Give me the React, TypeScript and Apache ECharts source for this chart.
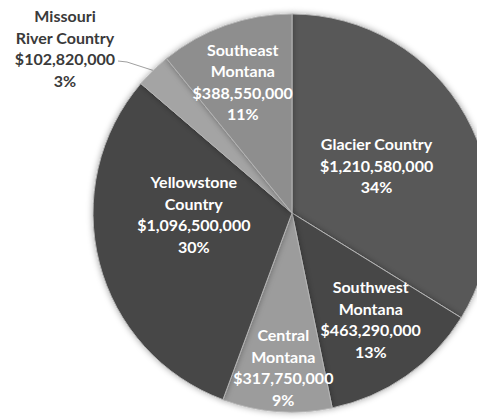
import React, { useEffect, useRef } from "react";
import * as echarts from "echarts";

const regions = [
  "Glacier Country",
  "Southwest Montana",
  "Central Montana",
  "Yellowstone Country",
  "Missouri River Country",
  "Southeast Montana",
];
const labelNames = [
  "Glacier Country",
  "Southwest\nMontana",
  "Central\nMontana",
  "Yellowstone\nCountry",
  "Missouri\nRiver Country",
  "Southeast\nMontana",
];
const revenues = [1210580000, 463290000, 317750000, 1096500000, 102820000, 388550000];
const percentLabels = ["34%", "13%", "9%", "30%", "3%", "11%"];

const colors = ["#595959", "#474747", "#9c9c9c", "#474747", "#a4a4a4", "#8e8e8e"];
const labelOffsets: number[][] = [
  [-5, 2],
  [20, 22],
  [-1, 52],
  [1, -25],
  [0, 0],
  [-15, -35],
];
const OUTSIDE_INDEX = 4;

function fmt(v: number) {
  return "$" + v.toLocaleString("en-US");
}

export default function App() {
  const ref = useRef<HTMLDivElement>(null);
  useEffect(() => {
    document.body.style.margin = "0";
    if (!ref.current) return;
    const chart = echarts.init(ref.current, undefined, { renderer: "svg" });
    const data = regions.map((name, i) => {
      const item: any = {
        name,
        value: revenues[i],
        itemStyle: { color: colors[i] },
      };
      if (i === OUTSIDE_INDEX) {
        item.label = {
          position: "outside",
          color: "#3a3a3a",
        };
        item.labelLine = {
          show: true,
          length: 5,
          length2: 20,
          lineStyle: { color: "#a0a0a0", width: 1 },
        };
      }
      return item;
    });
    chart.setOption({
      animation: false,
      backgroundColor: "#ffffff",
      series: [
        {
          type: "pie",
          center: [292, 213],
          radius: 199,
          startAngle: 90,
          clockwise: true,
          data,
          itemStyle: {
            borderColor: "#b4b4b4",
            borderWidth: 1,
            shadowBlur: 6,
            shadowColor: "rgba(0,0,0,0.35)",
          },
          label: {
            show: true,
            position: "inside",
            color: "#ffffff",
            fontFamily: "Lato",
            fontWeight: "bold",
            fontSize: 16,
            lineHeight: 21.5,
            align: "center",
            formatter: (p: any) =>
              `${labelNames[p.dataIndex]}\n${fmt(p.value)}\n${percentLabels[p.dataIndex]}`,
          },
          labelLine: { show: false },
          emphasis: { disabled: true },
          labelLayout: (params: any) => {
            const i = params.dataIndex;
            if (i === OUTSIDE_INDEX) {
              const pts = params.labelLinePoints;
              const start = pts && pts[0] ? pts[0] : [153, 70];
              return {
                x: 65,
                y: 48,
                align: "center",
                verticalAlign: "middle",
                labelLinePoints: [start, [127, 62], [118, 61]],
              };
            }
            return { dx: labelOffsets[i][0], dy: labelOffsets[i][1] };
          },
        },
      ],
    });
    return () => chart.dispose();
  }, []);
  return <div ref={ref} style={{ width: 477, height: 419 }} />;
}
